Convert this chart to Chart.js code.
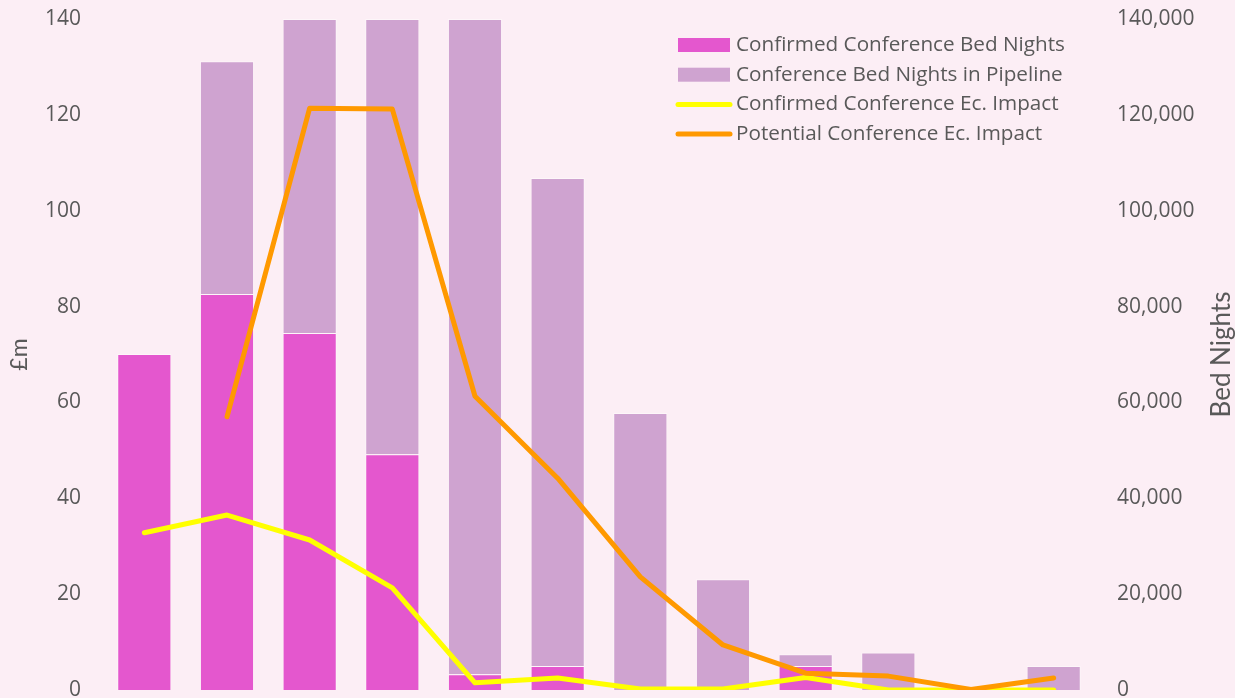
<!DOCTYPE html>
<html>
<head>
<meta charset="utf-8">
<script src="https://cdn.jsdelivr.net/npm/chart.js@4/dist/chart.umd.min.js"></script>
<style>
  html, body { margin: 0; padding: 0; background: #FCEEF5; }
  #wrap { width: 1235px; height: 698px; position: relative; }
</style>
</head>
<body>
<div id="wrap"><canvas id="chart"></canvas></div>
<script>
// Periods (not labelled on the axis)
const categories = ['2019', '2020', '2021', '2022', '2023', '2024', '2025', '2026', '2027', '2028', '2029', '2030'];

// Bed nights (right axis)
const confirmedBedNights = [70100, 82600, 74500, 49200, 3300, 5000, 0, 0, 5000, 0, 0, 0];
const pipelineBedNights  = [0, 48600, 65500, 90800, 136700, 101800, 57800, 23100, 2450, 7800, 0, 5000];

// Economic impact, £m (left axis)
const confirmedImpact = [32.8, 36.5, 31.3, 21.3, 1.5, 2.5, 0.2, 0.2, 2.6, 0, 0, 0];
const potentialImpact = [null, 57.0, 121.4, 121.2, 61.3, 44.2, 23.6, 9.4, 3.5, 2.9, 0.1, 2.5];

// Axis ticks
const impactTicks = [0, 20, 40, 60, 80, 100, 120, 140];
const bedNightTicks = [0, 20000, 40000, 60000, 80000, 100000, 120000, 140000];

const TEXT = '#595959';
const TICK_FONT = "'Open Sans', sans-serif";
const TITLE_FONT = "Lato, sans-serif";

const background = {
  id: 'background',
  beforeDraw(chart) {
    const ctx = chart.ctx;
    ctx.save();
    ctx.fillStyle = '#FCEEF5';
    ctx.fillRect(0, 0, chart.width, chart.height);
    ctx.restore();
  }
};

// Right-hand axis title, read bottom-to-top like the left one
const rightTitle = {
  id: 'rightTitle',
  afterDraw(chart) {
    const ctx = chart.ctx;
    const a = chart.chartArea;
    ctx.save();
    ctx.translate(1222, (a.top + a.bottom) / 2);
    ctx.rotate(-Math.PI / 2);
    ctx.fillStyle = TEXT;
    ctx.font = '26px ' + TITLE_FONT;
    ctx.textAlign = 'center';
    ctx.textBaseline = 'middle';
    ctx.fillText('Bed Nights', 0, 0);
    ctx.restore();
  }
};

// Legend drawn inside the plot, top right
const insideLegend = {
  id: 'insideLegend',
  afterDraw(chart) {
    const ctx = chart.ctx;
    const x0 = 678, y0 = 45, rowH = 29.7, sw = 52;
    ctx.save();
    ctx.font = '20.7px ' + TICK_FONT;
    ctx.textBaseline = 'middle';
    ctx.textAlign = 'left';
    chart.data.datasets.forEach((ds, i) => {
      const y = y0 + i * rowH;
      if (ds.type === 'line') {
        ctx.strokeStyle = ds.borderColor;
        ctx.lineWidth = 5;
        ctx.lineCap = 'round';
        ctx.beginPath();
        ctx.moveTo(x0, y);
        ctx.lineTo(x0 + sw, y);
        ctx.stroke();
      } else {
        ctx.fillStyle = ds.backgroundColor;
        ctx.fillRect(x0, y - 7, sw, 14);
      }
      ctx.fillStyle = TEXT;
      ctx.fillText(ds.label, x0 + sw + 6, y);
    });
    ctx.restore();
  }
};

function fixVertical(width) {
  return scale => {
    scale.width = width;
    scale.paddingTop = 0;
    scale.paddingBottom = 0;
  };
}

new Chart(document.getElementById('chart'), {
  data: {
    labels: categories,
    datasets: [
      {
        type: 'bar',
        label: 'Confirmed Conference Bed Nights',
        data: confirmedBedNights,
        yAxisID: 'y1',
        stack: 'beds',
        backgroundColor: '#E457CE',
        borderColor: 'rgba(255,255,255,0.45)',
        borderWidth: 1,
        order: 2
      },
      {
        type: 'bar',
        label: 'Conference Bed Nights in Pipeline',
        data: pipelineBedNights,
        yAxisID: 'y1',
        stack: 'beds',
        backgroundColor: '#CFA3D0',
        borderColor: 'rgba(255,255,255,0.45)',
        borderWidth: 1,
        order: 2
      },
      {
        type: 'line',
        label: 'Confirmed Conference Ec. Impact',
        data: confirmedImpact,
        yAxisID: 'y',
        borderColor: '#FFFF00',
        borderWidth: 5,
        pointRadius: 0,
        tension: 0,
        borderCapStyle: 'round',
        borderJoinStyle: 'round',
        order: 1
      },
      {
        type: 'line',
        label: 'Potential Conference Ec. Impact',
        data: potentialImpact,
        yAxisID: 'y',
        borderColor: '#FF9900',
        borderWidth: 5,
        pointRadius: 0,
        tension: 0,
        borderCapStyle: 'round',
        borderJoinStyle: 'round',
        order: 0
      }
    ]
  },
  options: {
    responsive: true,
    maintainAspectRatio: false,
    animation: false,
    layout: { padding: { top: 19, bottom: 8, left: 0, right: 0 } },
    datasets: {
      bar: { categoryPercentage: 1, barPercentage: 0.655 }
    },
    plugins: {
      legend: { display: false },
      tooltip: { enabled: false }
    },
    scales: {
      x: {
        display: false,
        stacked: true,
        grid: { display: false }
      },
      y: {
        position: 'left',
        min: 0,
        max: 140,
        stacked: false,
        afterBuildTicks(scale) { scale.ticks = impactTicks.map(v => ({ value: v })); },
        afterFit: fixVertical(103),
        grid: { display: false, drawTicks: false },
        border: { display: false },
        ticks: { color: TEXT, font: { family: TICK_FONT, size: 21 }, padding: 22 },
        title: {
          display: true,
          text: '£m',
          color: TEXT,
          font: { family: TITLE_FONT, size: 23 },
          padding: { top: 6, bottom: 0 }
        }
      },
      y1: {
        position: 'right',
        min: 0,
        max: 140000,
        stacked: true,
        afterBuildTicks(scale) { scale.ticks = bedNightTicks.map(v => ({ value: v })); },
        afterFit: fixVertical(140),
        grid: { display: false, drawTicks: false },
        border: { display: false },
        ticks: {
          color: TEXT,
          font: { family: TICK_FONT, size: 21 },
          padding: 22,
          callback: v => v.toLocaleString('en-GB')
        }
      }
    }
  },
  plugins: [background, rightTitle, insideLegend]
});
</script>
</body>
</html>
